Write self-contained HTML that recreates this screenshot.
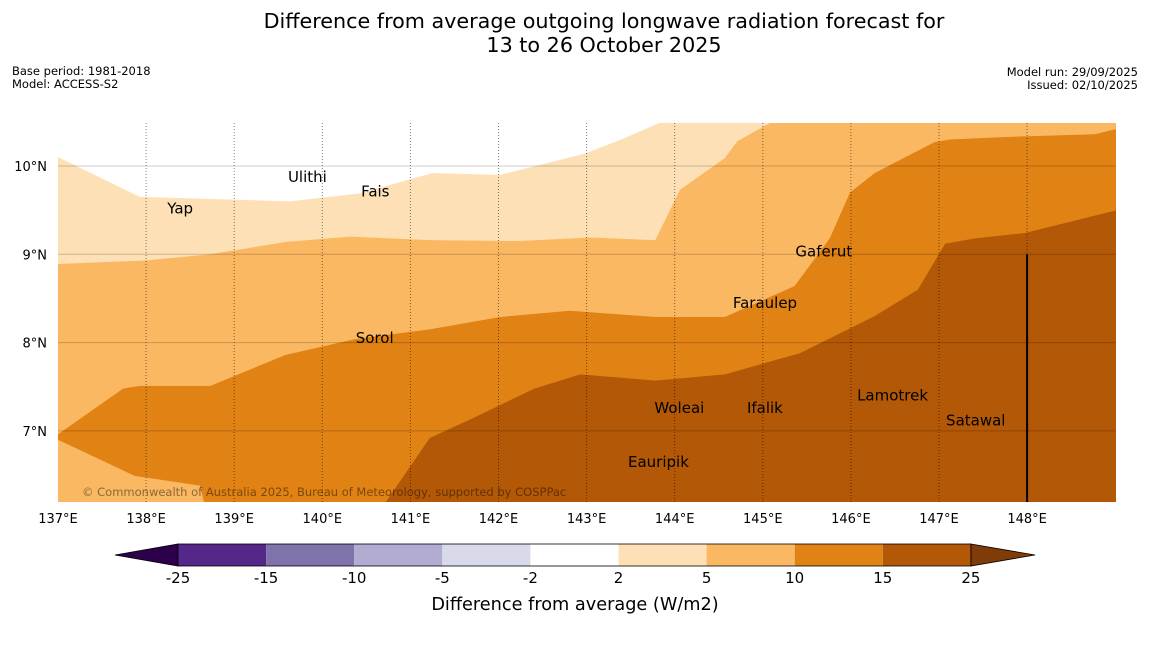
<!DOCTYPE html>
<html><head><meta charset="utf-8"><style>
body{margin:0;background:#fff;font-family:"Liberation Sans",sans-serif;}
</style></head><body>
<svg width="1150" height="644" xmlns="http://www.w3.org/2000/svg" font-family="DejaVu Sans, Liberation Sans, sans-serif">
<text x="604" y="28" font-size="20.7" text-anchor="middle">Difference from average outgoing longwave radiation forecast for</text>
<text x="604" y="52" font-size="20.7" text-anchor="middle">13 to 26 October 2025</text>
<text x="12" y="75" font-size="11.5">Base period: 1981-2018</text>
<text x="12" y="88" font-size="11.5">Model: ACCESS-S2</text>
<text x="1138" y="76" font-size="11.5" text-anchor="end">Model run: 29/09/2025</text>
<text x="1138" y="89" font-size="11.5" text-anchor="end">Issued: 02/10/2025</text>
<defs><clipPath id="mc"><rect x="58" y="123" width="1058" height="379"/></clipPath></defs>
<g id="map" clip-path="url(#mc)"></g>
<g id="over"></g>
<g id="cbar"></g>
</svg>
<script>
const lonTicks=[137,138,139,140,141,142,143,144,145,146,147,148];
const latTicks=[7,8,9,10];
// contour boundaries, [lon,lat]
const b1=[[137,10.1],[137.93,9.65],[139.63,9.6],[140.43,9.69],[141.25,9.92],[142.02,9.9],[142.98,10.14],[143.44,10.32],[143.9,10.52]];
const b2=[[137,8.89],[137.99,8.93],[138.73,9.0],[139.58,9.14],[140.32,9.2],[141.22,9.16],[142.24,9.15],[143.04,9.19],[143.78,9.16],[144.06,9.73],[144.57,10.09],[144.71,10.28],[145.14,10.52],[149.1,10.52]];
const b3=[[137,6.96],[137.74,7.48],[137.93,7.51],[138.73,7.51],[139.58,7.86],[140.37,8.04],[141.22,8.15],[142.02,8.29],[142.81,8.36],[143.78,8.29],[144.57,8.29],[145.36,8.64],[145.76,9.18],[145.99,9.7],[146.27,9.92],[146.95,10.27],[147.12,10.3],[147.8,10.33],[148.77,10.36],[149.1,10.44]];
const b4=[[140.69,6.15],[141.22,6.92],[141.68,7.13],[142.41,7.48],[142.93,7.64],[143.78,7.57],[144.57,7.64],[145.42,7.88],[146.27,8.3],[146.76,8.6],[147.07,9.12],[147.41,9.18],[147.97,9.24],[149.1,9.52]];
const b5=[[137,6.9],[137.87,6.49],[138.61,6.38],[138.67,6.15]];
const islands=[["Ulithi",139.61,9.875],["Fais",140.44,9.71],["Yap",138.24,9.52],["Gaferut",145.37,9.03],["Faraulep",144.66,8.45],["Sorol",140.38,8.05],["Lamotrek",146.07,7.40],["Woleai",143.77,7.26],["Ifalik",144.82,7.26],["Satawal",147.08,7.12],["Eauripik",143.47,6.65]];
const levels=["-25","-15","-10","-5","-2","2","5","10","15","25"];
const colors=["#542788","#8073ac","#b2abd2","#d8daeb","#ffffff","#fde0b6","#fbb862","#e08214","#b35806"];
const X=lon=>58+(lon-137)*88.1, Y=lat=>166-(lat-10)*88.3;
const NS="http://www.w3.org/2000/svg";
function mk(p,t,a){const e=document.createElementNS(NS,t);for(const k in a)e.setAttribute(k,a[k]);p.appendChild(e);return e;}
const pts=a=>a.map(p=>X(p[0])+","+Y(p[1])).join(" ");
const map=document.getElementById('map'),over=document.getElementById('over'),cb=document.getElementById('cbar');
let r=mk(map,'rect',{x:58,y:123,width:1058,height:379,fill:'#ffffff'});


const topY=Y(10.6),botY=Y(6.1);
let p=mk(map,'polygon',{points:pts(b1)+` ${X(149.2)},${topY} ${X(149.2)},${botY} ${X(137)},${botY}`,fill:colors[5]});


p=mk(map,'polygon',{points:pts(b2)+` ${X(149.2)},${botY} ${X(137)},${botY}`,fill:colors[6]});


p=mk(map,'polygon',{points:pts(b3)+` ${X(149.2)},${botY} `+pts(b5.slice().reverse()),fill:colors[7]});


p=mk(map,'polygon',{points:pts(b4)+` ${X(149.2)},${botY}`,fill:colors[8]});


latTicks.forEach(l=>{let e=mk(map,'line',{x1:58,x2:1116,y1:Y(l),y2:Y(l),stroke:'#000','stroke-opacity':0.2,'stroke-width':1});


let t=mk(over,'text',{x:47,y:Y(l)+5,'font-size':13,'text-anchor':'end'});t.textContent=l+"°N";

});
lonTicks.forEach(l=>{if(l>137){let e=mk(map,'line',{x1:X(l),x2:X(l),y1:123,y2:502,stroke:'#000','stroke-opacity':0.5,'stroke-width':1,'stroke-dasharray':'1,2'});

}
let t=mk(over,'text',{x:X(l),y:523,'font-size':13,'text-anchor':'middle'});t.textContent=l+"°E";

});
let vl=mk(map,'line',{x1:X(148),x2:X(148),y1:Y(9),y2:502,stroke:'#000','stroke-width':2});


islands.forEach(d=>{let t=mk(map,'text',{x:X(d[1]),y:Y(d[2])+5,'font-size':15});t.textContent=d[0];

});
let c=mk(map,'text',{x:82,y:496,'font-size':11.5,fill:'#000','fill-opacity':0.45});c.textContent="© Commonwealth of Australia 2025, Bureau of Meteorology, supported by COSPPac";


// colorbar
const cx0=178,cw=88.1,cy=544,ch=22;
let e1=mk(cb,'polygon',{points:`115,555 ${cx0},${cy} ${cx0},${cy+ch}`,fill:'#2d004b',stroke:'#000','stroke-width':0.8});


const xe=cx0+cw*colors.length;
let e2=mk(cb,'polygon',{points:`${xe},${cy} 1035,555 ${xe},${cy+ch}`,fill:'#7f3b08',stroke:'#000','stroke-width':0.8});


colors.forEach((col,i)=>{let s=mk(cb,'rect',{x:cx0+i*cw,y:cy,width:cw,height:ch,fill:col});

});
mk(cb,'rect',{x:cx0,y:cy,width:xe-cx0,height:ch,fill:'none',stroke:'#000','stroke-width':0.8});
levels.forEach((l,i)=>{let t=mk(cb,'text',{x:cx0+i*cw,y:583,'font-size':15,'text-anchor':'middle'});t.textContent=l;

});
let ct=mk(cb,'text',{x:575,y:610,'font-size':17.7,'text-anchor':'middle'});ct.textContent="Difference from average (W/m2)";


</script>
</body></html>
